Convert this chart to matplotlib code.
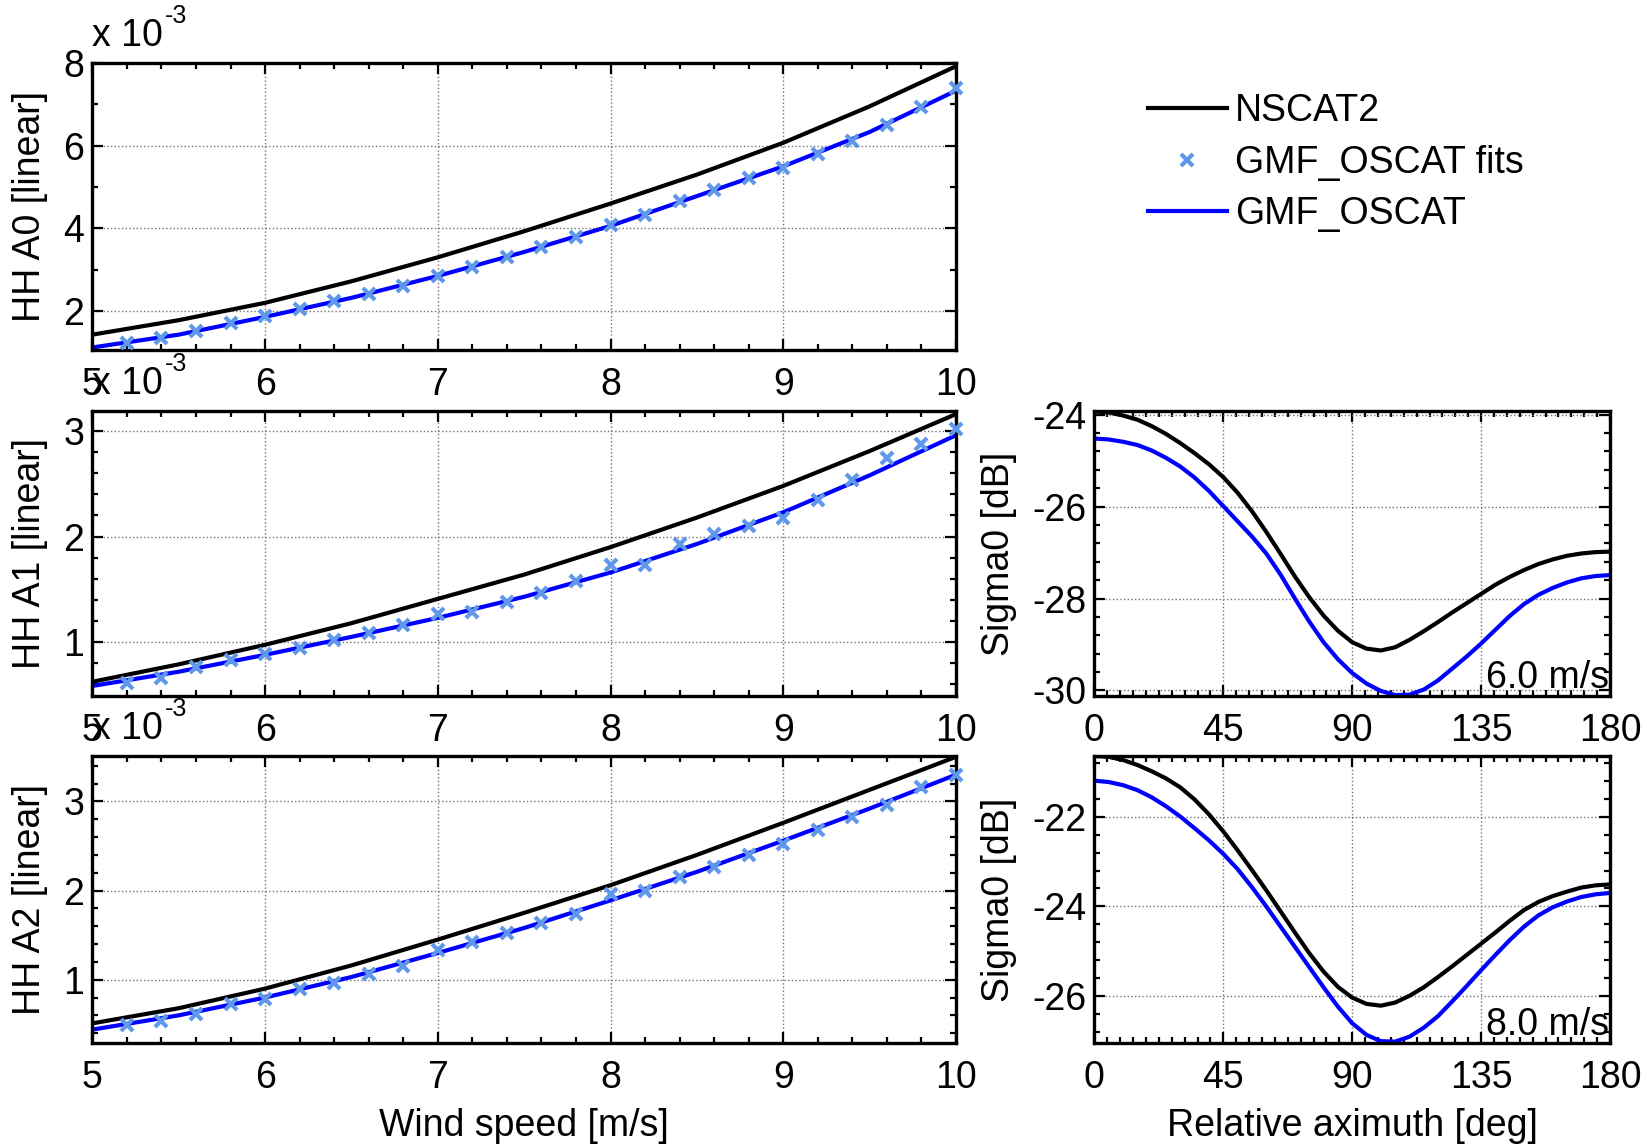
import matplotlib
matplotlib.use("Agg")
import matplotlib.pyplot as plt
from matplotlib.ticker import MultipleLocator

plt.rcParams['font.family'] = ['Liberation Sans', 'DejaVu Sans']
plt.rcParams['axes.unicode_minus'] = False
plt.rcParams['font.size'] = 27

# wind speed axis [m/s]
wind_speed = [5.0, 5.5, 6.0, 6.5, 7.0, 7.5, 8.0, 8.5, 9.0, 9.5, 10.0]
fit_speed = [5.2, 5.4, 5.6, 5.8, 6.0, 6.2, 6.4, 6.6, 6.8, 7.0, 7.2, 7.4, 7.6,
             7.8, 8.0, 8.2, 8.4, 8.6, 8.8, 9.0, 9.2, 9.4, 9.6, 9.8, 10.0]

# HH harmonic coefficients (x 1e-3)
a0_nscat2 = [1.43, 1.78, 2.20, 2.72, 3.30, 3.93, 4.60, 5.30, 6.07, 6.95, 7.92]
a0_oscat = [1.12, 1.43, 1.86, 2.32, 2.85, 3.43, 4.06, 4.78, 5.50, 6.33, 7.33]
a0_fits = [1.22, 1.35, 1.51, 1.71, 1.88, 2.04, 2.24, 2.41, 2.61, 2.86, 3.06, 3.31, 3.55,
           3.80, 4.08, 4.33, 4.65, 4.94, 5.22, 5.47, 5.80, 6.12, 6.51, 6.94, 7.39]

a1_nscat2 = [0.625, 0.79, 0.975, 1.18, 1.41, 1.64, 1.90, 2.18, 2.48, 2.81, 3.16]
a1_oscat = [0.585, 0.72, 0.88, 1.05, 1.23, 1.43, 1.66, 1.93, 2.23, 2.58, 2.96]
a1_fits = [0.61, 0.66, 0.76, 0.83, 0.89, 0.94, 1.02, 1.09, 1.16, 1.27, 1.29, 1.38, 1.47,
           1.58, 1.73, 1.73, 1.93, 2.02, 2.10, 2.18, 2.35, 2.54, 2.74, 2.88, 3.02]

a2_nscat2 = [0.51, 0.68, 0.90, 1.16, 1.45, 1.75, 2.06, 2.40, 2.76, 3.13, 3.50]
a2_oscat = [0.44, 0.60, 0.80, 1.03, 1.30, 1.58, 1.89, 2.21, 2.56, 2.92, 3.30]
a2_fits = [0.49, 0.54, 0.62, 0.73, 0.78, 0.89, 0.96, 1.06, 1.15, 1.33, 1.42, 1.52, 1.64,
           1.74, 1.96, 2.00, 2.15, 2.27, 2.40, 2.52, 2.68, 2.82, 2.96, 3.16, 3.30]

# sigma0 vs relative azimuth [dB]
azimuth = [0, 5, 10, 15, 20, 25, 30, 35, 40, 45, 50, 55, 60, 65, 70, 75, 80, 85, 90,
           95, 100, 105, 110, 115, 120, 125, 130, 135, 140, 145, 150, 155, 160, 165, 170, 175, 180]
sig6_nscat2 = [-23.93, -23.95, -24.02, -24.11, -24.25, -24.42, -24.62, -24.84, -25.08, -25.36,
               -25.70, -26.10, -26.55, -27.03, -27.52, -27.97, -28.37, -28.70, -28.95,
               -29.09, -29.13, -29.06, -28.90, -28.71, -28.51, -28.30, -28.10, -27.90, -27.70,
               -27.53, -27.38, -27.25, -27.15, -27.07, -27.02, -26.99, -26.98]
sig6_oscat = [-24.52, -24.54, -24.59, -24.66, -24.78, -24.94, -25.13, -25.37, -25.66, -25.99,
              -26.32, -26.65, -27.02, -27.48, -28.00, -28.50, -28.95, -29.32, -29.62,
              -29.85, -30.01, -30.10, -30.09, -29.98, -29.78, -29.52, -29.26, -28.98, -28.68,
              -28.38, -28.12, -27.92, -27.77, -27.65, -27.56, -27.51, -27.49]
sig8_nscat2 = [-20.65, -20.67, -20.74, -20.85, -20.99, -21.15, -21.35, -21.62, -21.95, -22.33,
               -22.75, -23.19, -23.64, -24.11, -24.58, -25.04, -25.45, -25.79, -26.03,
               -26.17, -26.21, -26.14, -25.99, -25.80, -25.57, -25.33, -25.08, -24.83, -24.58,
               -24.32, -24.08, -23.90, -23.77, -23.67, -23.58, -23.53, -23.51]
sig8_oscat = [-21.20, -21.23, -21.30, -21.41, -21.57, -21.77, -22.00, -22.26, -22.53, -22.83,
              -23.17, -23.57, -24.00, -24.45, -24.90, -25.35, -25.80, -26.23, -26.60,
              -26.86, -27.00, -27.01, -26.90, -26.70, -26.44, -26.11, -25.77, -25.42, -25.08,
              -24.75, -24.45, -24.20, -24.02, -23.89, -23.79, -23.73, -23.70]

FIT_COLOR = '#5f97ea'
LW = 3.0


def style_axes(ax):
    for s in ax.spines.values():
        s.set_linewidth(2.4)
    ax.tick_params(which='both', direction='in', top=True, right=True, width=1.6)
    ax.tick_params(which='major', length=8)
    ax.tick_params(which='minor', length=4)
    ax.tick_params(axis='y', pad=6)
    ax.tick_params(axis='x', pad=12)
    ax.grid(True, which='major', linestyle=':', color='0.45', linewidth=1.0)


def exponent_label(ax):
    # MATLAB-style "x 10^-3" above the axes
    t = ax.text(0.0, 1.03, 'x 10', transform=ax.transAxes, ha='left', va='bottom')
    ax.annotate('-3', xy=(1.02, 0.72), xycoords=t, ha='left', va='bottom', fontsize=18)


fig = plt.figure(figsize=(16.47, 11.47), dpi=100)

left_rows = [
    (0.6949, 0.2502, a0_nscat2, a0_oscat, a0_fits, 'HH A0 [linear]', (1.06, 8.0), 2, 1),
    (0.3932, 0.2485, a1_nscat2, a1_oscat, a1_fits, 'HH A1 [linear]', (0.49, 3.19), 1, 0.2),
    (0.0907, 0.2502, a2_nscat2, a2_oscat, a2_fits, 'HH A2 [linear]', (0.29, 3.51), 1, 0.2),
]

handles = None
for i, (y0, h, nscat, oscat, fits, ylab, ylim, major, minor) in enumerate(left_rows):
    ax = fig.add_axes([0.0561, y0, 0.5243, h])
    l1, = ax.plot(wind_speed, nscat, color='black', lw=LW, label='NSCAT2')
    l2, = ax.plot(wind_speed, oscat, color='#0000ff', lw=LW, label='GMF_OSCAT')
    l3, = ax.plot(fit_speed, fits, linestyle='none', marker='x', color=FIT_COLOR,
                  markersize=9, markeredgewidth=3, label='GMF_OSCAT fits', clip_on=False, zorder=3)
    if handles is None:
        handles = [l1, l3, l2]
    ax.set_xlim(5, 10)
    ax.set_ylim(*ylim)
    ax.xaxis.set_major_locator(MultipleLocator(1))
    ax.xaxis.set_minor_locator(MultipleLocator(0.2))
    ax.yaxis.set_major_locator(MultipleLocator(major))
    ax.yaxis.set_minor_locator(MultipleLocator(minor))
    style_axes(ax)
    ax.set_ylabel(ylab)
    ax.yaxis.set_label_coords(-0.051, 0.5)
    exponent_label(ax)
    if i == 2:
        ax.set_xlabel('Wind speed [m/s]')
        ax.xaxis.set_label_coords(0.5, -0.228)

right_rows = [
    (0.3932, 0.2485, sig6_nscat2, sig6_oscat, (-30.12, -23.92), '6.0 m/s'),
    (0.0907, 0.2502, sig8_nscat2, sig8_oscat, (-27.04, -20.65), '8.0 m/s'),
]
for i, (y0, h, nscat, oscat, ylim, tag) in enumerate(right_rows):
    ax = fig.add_axes([0.6645, y0, 0.313, h])
    ax.plot(azimuth, nscat, color='black', lw=LW)
    ax.plot(azimuth, oscat, color='#0000ff', lw=LW)
    ax.set_xlim(0, 180)
    ax.set_ylim(*ylim)
    ax.xaxis.set_major_locator(MultipleLocator(45))
    ax.xaxis.set_minor_locator(MultipleLocator(4.5))
    ax.yaxis.set_major_locator(MultipleLocator(2))
    ax.yaxis.set_minor_locator(MultipleLocator(0.4))
    style_axes(ax)
    ax.set_ylabel('Sigma0 [dB]')
    ax.yaxis.set_label_coords(-0.150, 0.5)
    ax.text(0.998, 0.0, tag, transform=ax.transAxes, ha='right', va='bottom')
    if i == 1:
        ax.set_xlabel('Relative aximuth [deg]')
        ax.xaxis.set_label_coords(0.5, -0.228)

fig.legend(handles=handles, labels=['NSCAT2', 'GMF_OSCAT fits', 'GMF_OSCAT'],
           loc='upper left', bbox_to_anchor=(0.6855, 0.935), frameon=False,
           handlelength=2.1, handletextpad=0.22, labelspacing=0.41, borderpad=0,
           fontsize=27)

fig.savefig('out.png', dpi=100)
